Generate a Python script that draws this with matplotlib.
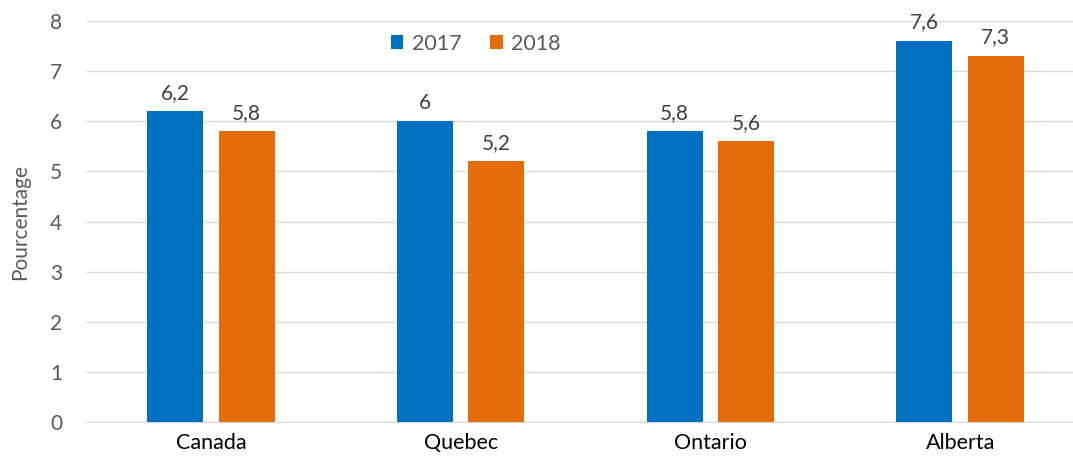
import numpy as np
import matplotlib.pyplot as plt

regions = ['Canada', 'Quebec', 'Ontario', 'Alberta']
v2017 = [6.2, 6.0, 5.8, 7.6]
v2018 = [5.8, 5.2, 5.6, 7.3]
labels2017 = ['6,2', '6', '5,8', '7,6']
labels2018 = ['5,8', '5,2', '5,6', '7,3']

plt.rcParams['font.family'] = ['Lato', 'DejaVu Sans']

fig = plt.figure(figsize=(10.73, 4.65), dpi=100)
# axes runs a bit past the right edge, like the source
ax = fig.add_axes([86/1073, 1-422/465, (1085-86)/1073, 401/465])

x = np.arange(len(regions))
w = 0.224
off = 0.143
blue = '#0070C0'
orange = '#E46C0A'
b1 = ax.bar(x - off, v2017, w, color=blue, label='2017', zorder=3)
b2 = ax.bar(x + off, v2018, w, color=orange, label='2018', zorder=3)

for bars, labs in ((b1, labels2017), (b2, labels2018)):
    for r, t in zip(bars, labs):
        ax.text(r.get_x() + r.get_width()/2, r.get_height() + 0.17, t,
                ha='center', va='bottom', fontsize=15, color='#404040')

ax.set_ylim(0, 8)
ax.set_xlim(-0.5, 3.5)
ax.set_yticks(range(9))
ax.set_xticks(x)
ax.set_xticklabels(regions, fontsize=15.5, color='black')
ax.tick_params(axis='y', labelsize=15, labelcolor='#595959', length=0, pad=17)
ax.tick_params(axis='x', length=0, pad=8)
ax.grid(axis='y', color='#D9D9D9', linewidth=1, zorder=0)
for s in ['top', 'right', 'left']:
    ax.spines[s].set_visible(False)
ax.spines['bottom'].set_color('#D9D9D9')
ax.set_ylabel('Pourcentage', fontsize=15, color='#595959')
ax.yaxis.set_label_coords(-0.056, 0.5)

ax.legend(loc='center', bbox_to_anchor=(0.39, 0.943), ncol=2, frameon=False,
          fontsize=15.5, handlelength=0.6, handleheight=0.6, handletextpad=0.4,
          columnspacing=1.3, labelcolor='#595959')

fig.savefig('out.png', dpi=100)
